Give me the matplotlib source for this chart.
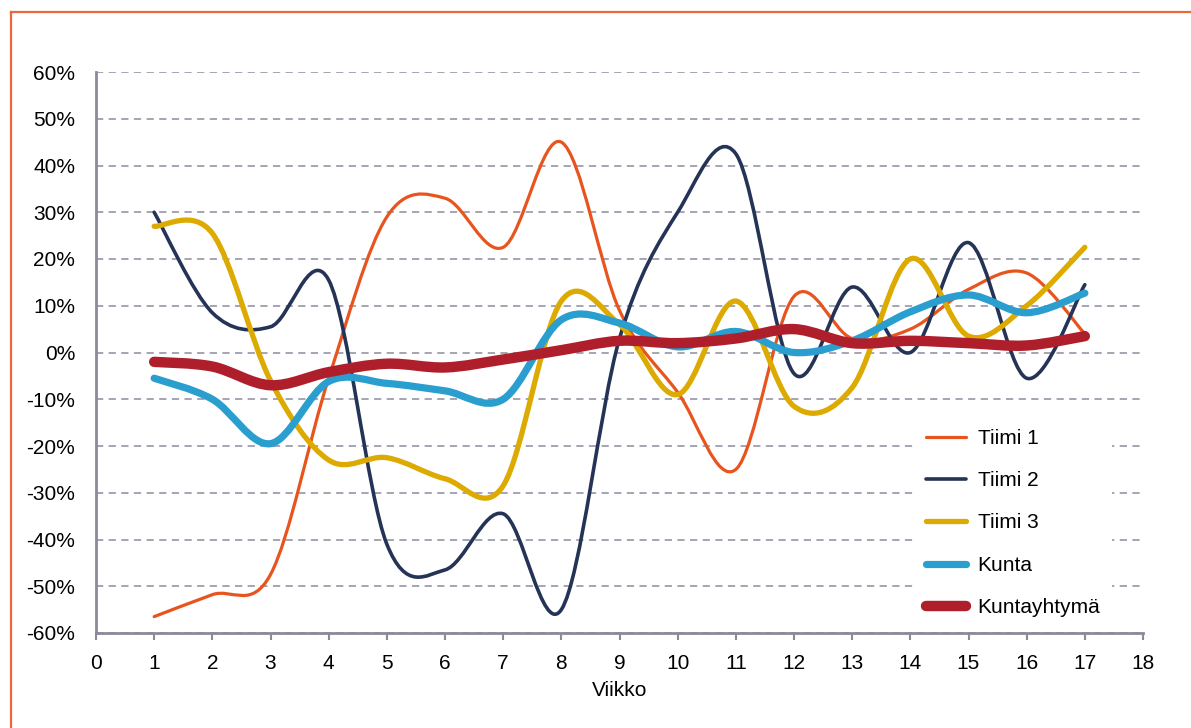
import matplotlib
matplotlib.use("Agg")
import matplotlib.pyplot as plt
from matplotlib.path import Path
from matplotlib.patches import PathPatch
from matplotlib.lines import Line2D
from matplotlib.ticker import FuncFormatter

plt.rcParams['font.family'] = ['Liberation Sans', 'DejaVu Sans']

viikot = list(range(1, 18))
tiimi1 = [-56.5, -51.8, -47.5, -5.5, 29, 33, 22.5, 45, 9, -8.5, -25, 12, 3, 5, 13.5, 17, 4]
tiimi2 = [30, 8.5, 5.5, 15.5, -41, -46.5, -34.5, -55, 3, 30, 42.5, -4.5, 14, 0, 23.5, -5.5, 14.5]
tiimi3 = [27, 25.5, -6, -23, -22.5, -27, -28.5, 11, 6, -9, 11, -11.5, -7.5, 20, 3.5, 10, 22.5]
kunta = [-5.5, -10, -19.5, -6.2, -6.6, -8.2, -10, 7, 6.3, 1.2, 4.5, 0, 2.5, 8.7, 12.3, 8.5, 12.7]
kuntayhtyma = [-2, -3, -7, -4.2, -2.4, -3.2, -1.5, 0.5, 2.5, 2, 3, 5, 2, 2.5, 2, 1.5, 3.5]

nimet = ['Tiimi 1', 'Tiimi 2', 'Tiimi 3', 'Kunta', 'Kuntayhtymä']
sarjat = [tiimi1, tiimi2, tiimi3, kunta, kuntayhtyma]
varit = ['#E8541E', '#253356', '#DCAA00', '#2A9FCF', '#AE1E2B']
paksuus = [2.3, 2.6, 3.8, 5.2, 7.5]


def smooth_path(xs, ys):
    # excel style smoothed line: cubic bezier through every point
    n = len(xs)
    verts = [(xs[0], ys[0])]
    codes = [Path.MOVETO]
    for i in range(n - 1):
        x0, y0 = xs[max(i - 1, 0)], ys[max(i - 1, 0)]
        x3, y3 = xs[min(i + 2, n - 1)], ys[min(i + 2, n - 1)]
        c1 = (xs[i] + (xs[i + 1] - x0) / 6, ys[i] + (ys[i + 1] - y0) / 6)
        c2 = (xs[i + 1] - (x3 - xs[i]) / 6, ys[i + 1] - (y3 - ys[i]) / 6)
        verts += [c1, c2, (xs[i + 1], ys[i + 1])]
        codes += [Path.CURVE4] * 3
    return Path(verts, codes)


fig = plt.figure(figsize=(11.91, 7.28), dpi=100)
ax = fig.add_axes([96 / 1191, 1 - 633 / 728, 1047 / 1191, 561 / 728])

for y, c, lw in zip(sarjat, varit, paksuus):
    p = PathPatch(smooth_path(viikot, y), facecolor='none', edgecolor=c,
                  lw=lw, capstyle='round', joinstyle='round', zorder=3)
    ax.add_patch(p)

ax.set_xlim(0, 18)
ax.set_ylim(-60, 60)
ax.set_xticks(range(0, 19))
ax.set_yticks(range(-60, 61, 10))
ax.yaxis.set_major_formatter(FuncFormatter(lambda v, _: '%d%%' % v))

gridc = '#9D9DAD'
ax.grid(axis='y', color=gridc, linestyle=(0, (4, 3)), lw=1.3)
ax.set_axisbelow(True)
for s in ['top', 'right']:
    ax.spines[s].set_visible(False)
for s in ['left', 'bottom']:
    ax.spines[s].set_color('#8A8A9A')
    ax.spines[s].set_linewidth(2)
ax.tick_params(axis='y', length=0, pad=15, labelsize=15)
ax.tick_params(axis='x', length=5, width=1.5, color='#8A8A9A', pad=10, labelsize=15)
ax.set_xlabel('Viikko', fontsize=15, labelpad=6)

handles = [Line2D([], [], color=c, lw=lw, solid_capstyle='round') for c, lw in zip(varit, paksuus)]
leg = ax.legend(handles, nimet, loc='upper left', bbox_to_anchor=(0.772, 0.403),
                fontsize=15, frameon=True, facecolor='white', edgecolor='none',
                framealpha=1, fancybox=False, handlelength=1.92, handletextpad=0.55,
                labelspacing=1.12, borderpad=0.55)
leg.set_zorder(5)

# orange frame around the chart
fig.add_artist(Line2D([11 / 1191, 11 / 1191], [0, 1 - 12 / 728], color='#E9693C', lw=1.6))
fig.add_artist(Line2D([11 / 1191, 1], [1 - 12 / 728, 1 - 12 / 728], color='#E9693C', lw=1.6))

fig.savefig('out.png', dpi=100)
